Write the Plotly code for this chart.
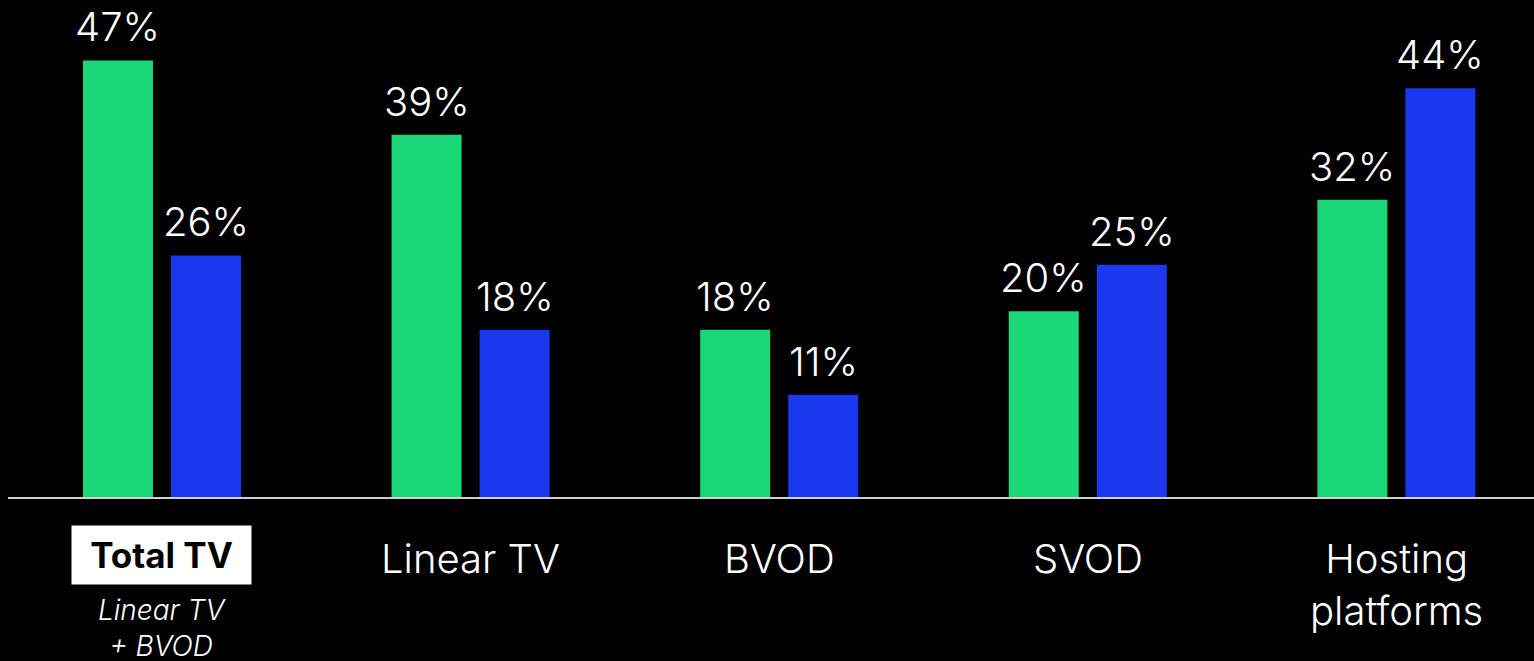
import plotly.graph_objects as go

categories = ["Total TV", "Linear TV", "BVOD", "SVOD", "Hosting<br>platforms"]
green_values = [47, 39, 18, 20, 32]
blue_values = [26, 18, 11, 25, 44]
subtitle = "Linear TV<br>+ BVOD"

GREEN = "#19D676"
BLUE = "#1A38EE"
FONT = "Inter"

idx = list(range(len(categories)))
half = 0.1134
sep = 0.1426

fig = go.Figure()
fig.add_trace(go.Bar(x=idx, y=green_values, width=2 * half, offset=-sep - half,
                     marker=dict(color=GREEN, line=dict(width=0)), hoverinfo="skip"))
fig.add_trace(go.Bar(x=idx, y=blue_values, width=2 * half, offset=sep - half,
                     marker=dict(color=BLUE, line=dict(width=0)), hoverinfo="skip"))

annotations = []
for i, (g, b) in enumerate(zip(green_values, blue_values)):
    for xv, v in ((i - sep, g), (i + sep, b)):
        annotations.append(dict(x=xv, y=v, xref="x", yref="y", text=f"{v}%",
                                 showarrow=False, yanchor="bottom", yshift=7,
                                 font=dict(family=FONT, size=40, color="white", weight=300)))

for i, c in enumerate(categories):
    if i == 0:
        annotations.append(dict(x=i, y=0, xref="x", yref="paper", text="<b>Total TV</b>",
                                showarrow=False, yanchor="middle", yshift=-58,
                                bgcolor="white", width=179, height=58, borderpad=0,
                                font=dict(family=FONT, size=35, color="black")))
        annotations.append(dict(x=i, y=0, xref="x", yref="paper", text=f"<i>{subtitle}</i>",
                                showarrow=False, yanchor="middle", yshift=-131,
                                font=dict(family=FONT, size=28, color="white", weight=300)))
    else:
        shift = -87 if "<br>" in c else -61
        annotations.append(dict(x=i, y=0, xref="x", yref="paper", text=c,
                                showarrow=False, yanchor="middle", yshift=shift,
                                font=dict(family=FONT, size=40, color="white", weight=300)))

fig.update_layout(
    width=1534, height=661,
    paper_bgcolor="black", plot_bgcolor="black",
    margin=dict(l=8, r=0, t=0, b=164),
    showlegend=False, barmode="overlay",
    xaxis=dict(range=[-0.499, 4.446], showgrid=False, zeroline=False,
               showticklabels=False, showline=True, linecolor="#cfcfcf", linewidth=2,
               fixedrange=True),
    yaxis=dict(range=[0, 53.5], showgrid=False, zeroline=False, showticklabels=False,
               showline=False, fixedrange=True),
    annotations=annotations,
)

fig.write_html(
    "out.html",
    config={"displayModeBar": False},
    post_script="document.body.style.margin='0';document.body.style.background='black';",
)
